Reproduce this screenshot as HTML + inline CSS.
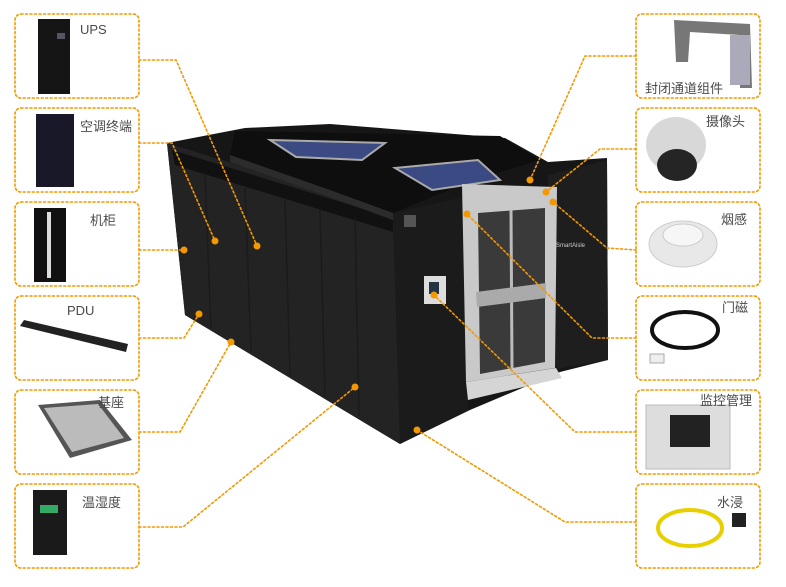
<!DOCTYPE html>
<html><head><meta charset="utf-8"><style>
html,body{margin:0;padding:0;background:#fff;}
body{width:786px;height:587px;overflow:hidden;position:relative;font-family:"Liberation Sans","Noto Sans CJK SC",sans-serif;}
.t{position:absolute;font-size:13px;color:#4a4a4a;white-space:nowrap;}
</style></head><body>
<svg width="786" height="587" style="position:absolute;left:0;top:0">
<g fill="none" stroke="#f39800" stroke-width="1.6" stroke-dasharray="2,2.5" stroke-linecap="round">
<rect x="15" y="14" width="124" height="84" rx="6"/>
<rect x="15" y="108" width="124" height="84" rx="6"/>
<rect x="15" y="202" width="124" height="84" rx="6"/>
<rect x="15" y="296" width="124" height="84" rx="6"/>
<rect x="15" y="390" width="124" height="84" rx="6"/>
<rect x="15" y="484" width="124" height="84" rx="6"/>
<rect x="636" y="14" width="124" height="84" rx="6"/>
<rect x="636" y="108" width="124" height="84" rx="6"/>
<rect x="636" y="202" width="124" height="84" rx="6"/>
<rect x="636" y="296" width="124" height="84" rx="6"/>
<rect x="636" y="390" width="124" height="84" rx="6"/>
<rect x="636" y="484" width="124" height="84" rx="6"/>
</g>
<!-- cube -->
<polygon points="167,143 245,128 330,124 505,138 548,162 607,158 608,360 560,372 470,410 400,444 185,315" fill="#161616"/>
<polygon points="167,143 393,213 400,444 185,315" fill="#232323"/>
<polygon points="172,150 393,218 393,232 175,165" fill="#111"/>
<g stroke="#1b1b1b" stroke-width="1.5">
<line x1="205" y1="175" x2="211" y2="328"/><line x1="245" y1="188" x2="251" y2="352"/>
<line x1="285" y1="200" x2="290" y2="376"/><line x1="320" y1="210" x2="325" y2="397"/>
<line x1="355" y1="218" x2="359" y2="416"/>
</g>
<polygon points="393,213 468,196 468,410 400,444" fill="#1b1b1b"/>
<polygon points="548,175 607,160 608,360 550,370" fill="#1e1e1e"/>
<polygon points="235,131 500,136 540,160 468,182 393,213 330,190 230,155" fill="#0e0e0e"/>
<polygon points="230,155 330,190 393,213 393,220 330,197 230,162" fill="#2c2c2c"/>
<polygon points="270,140 385,143 362,160 296,157" fill="#3b4a82" stroke="#aaa" stroke-width="2"/>
<polygon points="395,168 478,160 500,180 432,190" fill="#3b4a82" stroke="#aaa" stroke-width="2"/>
<polygon points="462,184 557,187 555,368 466,382" fill="#c9c9c9"/>
<polygon points="478,213 545,208 545,362 480,374" fill="#3a3a3a"/>
<line x1="511" y1="210" x2="512" y2="368" stroke="#bbb" stroke-width="3"/>
<polygon points="476,292 546,283 546,298 477,307" fill="#aaa"/>
<polygon points="466,382 556,368 562,378 468,400" fill="#d5d5d5"/>
<rect x="424" y="276" width="22" height="28" fill="#ddd"/>
<rect x="429" y="282" width="10" height="12" fill="#234"/>
<rect x="404" y="215" width="12" height="12" fill="#555"/>
<text x="556" y="247" font-size="6" fill="#ccc" font-family="Liberation Sans">SmartAisle</text>
<!-- connectors -->
<g fill="none" stroke="#f39800" stroke-width="1.6" stroke-dasharray="2,2.5" stroke-linecap="round">
<polyline points="139,60 176,60 257,246"/>
<polyline points="139,143 172,143 215,241"/>
<polyline points="139,250 184,250"/>
<polyline points="139,338 184,338 199,314"/>
<polyline points="139,432 180,432 231,342"/>
<polyline points="139,527 183,527 355,387"/>
<polyline points="636,56 585,56 530,180"/>
<polyline points="636,149 600,149 546,192"/>
<polyline points="636,250 607,248 553,202"/>
<polyline points="636,338 592,338 467,214"/>
<polyline points="636,432 575,432 434,295"/>
<polyline points="636,522 565,522 417,430"/>
</g>
<g fill="#f39800">
<circle cx="257" cy="246" r="3.5"/><circle cx="215" cy="241" r="3.5"/><circle cx="184" cy="250" r="3.5"/>
<circle cx="199" cy="314" r="3.5"/><circle cx="231" cy="342" r="3.5"/><circle cx="355" cy="387" r="3.5"/>
<circle cx="530" cy="180" r="3.5"/><circle cx="546" cy="192" r="3.5"/><circle cx="553" cy="202" r="3.5"/>
<circle cx="467" cy="214" r="3.5"/><circle cx="434" cy="295" r="3.5"/><circle cx="417" cy="430" r="3.5"/>
</g>
<!-- left devices -->
<rect x="38" y="19" width="32" height="75" fill="#151515"/><rect x="57" y="33" width="8" height="6" fill="#556"/>
<rect x="36" y="114" width="38" height="73" fill="#181828"/>
<rect x="34" y="208" width="32" height="74" fill="#111"/><rect x="47" y="212" width="4" height="66" fill="#ddd"/>
<polygon points="20,326 24,320 128,344 126,352" fill="#222"/>
<polygon points="38,405 100,400 132,440 70,458" fill="#555"/><polygon points="44,408 98,404 124,438 72,452" fill="#bbb"/>
<rect x="33" y="490" width="34" height="65" fill="#1a1a1a"/><rect x="40" y="505" width="18" height="8" fill="#3a6"/>
<!-- right devices -->
<polygon points="674,20 750,24 752,88 740,88 740,35 690,32 688,62 676,62" fill="#777"/>
<rect x="730" y="35" width="20" height="50" fill="#aab"/>
<ellipse cx="676" cy="145" rx="30" ry="28" fill="#d8d8d8"/>
<ellipse cx="677" cy="165" rx="20" ry="16" fill="#252525"/>
<ellipse cx="683" cy="244" rx="34" ry="23" fill="#e8e8e8" stroke="#ccc"/>
<ellipse cx="683" cy="235" rx="20" ry="11" fill="#f6f6f6" stroke="#ccc"/>
<ellipse cx="685" cy="330" rx="33" ry="18" fill="none" stroke="#111" stroke-width="4"/>
<rect x="650" y="354" width="14" height="9" fill="#eee" stroke="#aaa"/>
<rect x="646" y="405" width="84" height="64" fill="#ddd" stroke="#bbb"/>
<rect x="670" y="415" width="40" height="32" fill="#222"/>
<ellipse cx="690" cy="528" rx="32" ry="18" fill="none" stroke="#e8d000" stroke-width="4"/>
<rect x="732" y="513" width="14" height="14" fill="#222"/>
</svg>
<div class="t" style="left:80px;top:22px">UPS</div>
<div class="t" style="left:80px;top:116px">空调终端</div>
<div class="t" style="left:90px;top:210px">机柜</div>
<div class="t" style="left:67px;top:303px">PDU</div>
<div class="t" style="left:98px;top:392px">基座</div>
<div class="t" style="left:82px;top:492px">温湿度</div>
<div class="t" style="left:645px;top:78px">封闭通道组件</div>
<div class="t" style="left:706px;top:111px">摄像头</div>
<div class="t" style="left:721px;top:209px">烟感</div>
<div class="t" style="left:722px;top:297px">门磁</div>
<div class="t" style="left:700px;top:390px">监控管理</div>
<div class="t" style="left:717px;top:492px">水浸</div>
</body></html>
